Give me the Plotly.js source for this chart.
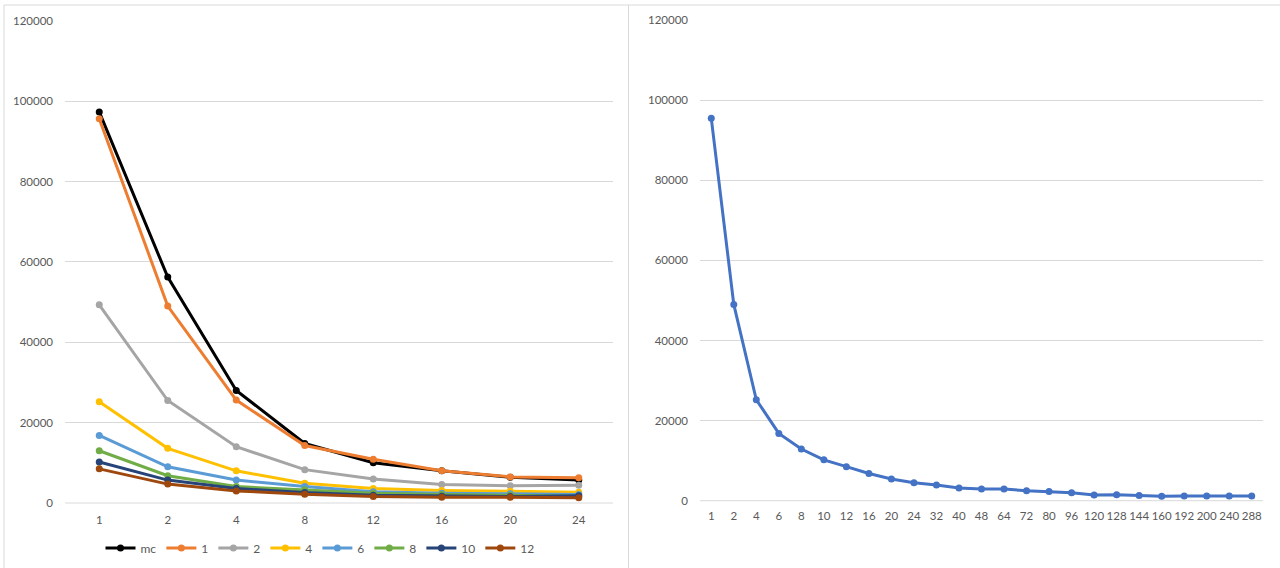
<!DOCTYPE html>
<html>
<head>
<meta charset="utf-8">
<script src="https://cdn.plot.ly/plotly-3.0.1.min.js"></script>
<style>
html,body{margin:0;padding:0;background:#fff;}
#chart{width:1280px;height:568px;}
</style>
</head>
<body>
<div id="chart"></div>
<script>
// Left chart categories and series
const leftCategories = ["1","2","4","8","12","16","20","24"];
const seriesNames = ["mc","1","2","4","6","8","10","12"];
const mcValues   = [97300, 56200, 28000, 14800, 10000, 8000, 6400, 5700];
const s1Values   = [95600, 49000, 25600, 14300, 10900, 8000, 6500, 6300];
const s2Values   = [49300, 25500, 14000, 8300, 6000, 4600, 4300, 4400];
const s4Values   = [25200, 13600, 8000, 4900, 3600, 3100, 2900, 2700];
const s6Values   = [16800, 9000, 5700, 4100, 2800, 2400, 2300, 2100];
const s8Values   = [13000, 6800, 4100, 3300, 2400, 2100, 1900, 1700];
const s10Values  = [10200, 5700, 3600, 2600, 1900, 1700, 1600, 1800];
const s12Values  = [8500, 4700, 3000, 2200, 1600, 1400, 1400, 1300];

// Right chart categories and series
const rightCategories = ["1","2","4","6","8","10","12","16","20","24","32","40","48","64","72","80","96","120","128","144","160","192","200","240","288"];
const rightValues = [95500, 49000, 25200, 16800, 12900, 10200, 8500, 6800, 5400, 4500, 3900, 3200, 2900, 2900, 2500, 2300, 2000, 1400, 1500, 1300, 1100, 1200, 1200, 1200, 1200];

const yTickVals = [0, 20000, 40000, 60000, 80000, 100000, 120000];

const leftSeries = [mcValues, s1Values, s2Values, s4Values, s6Values, s8Values, s10Values, s12Values];
const colors = ["#000000","#ED7D31","#A5A5A5","#FFC000","#5B9BD5","#70AD47","#264478","#9E480E"];

const W = 1280, H = 568;
const px = x => x / W;
const py = y => 1 - y / H;

const traces = leftSeries.map((vals, i) => ({
  type: "scatter", mode: "lines+markers",
  x: leftCategories, y: vals, name: seriesNames[i],
  xaxis: "x", yaxis: "y",
  line: {color: colors[i], width: 3},
  marker: {color: colors[i], size: 7},
  showlegend: true
}));
traces.push({
  type: "scatter", mode: "lines+markers",
  x: rightCategories, y: rightValues, name: "right",
  xaxis: "x2", yaxis: "y2",
  line: {color: "#4472C4", width: 3},
  marker: {color: "#4472C4", size: 7},
  showlegend: false
});

const FONT = "Lato, 'Liberation Sans', sans-serif";
const tickFont = {family: FONT, size: 11.5, color: "#595959"};

const axisCommon = {
  showline: false, zeroline: false, ticks: "", fixedrange: true
};

const layout = {
  width: W, height: H,
  margin: {l: 0, r: 0, t: 0, b: 0},
  paper_bgcolor: "#ffffff", plot_bgcolor: "rgba(0,0,0,0)",
  font: {family: FONT, color: "#595959"},
  showlegend: true,
  legend: {
    orientation: "h", x: px(320), xanchor: "center", y: py(548), yanchor: "middle",
    font: {family: FONT, size: 12, color: "#595959"},
    itemwidth: 30, tracegroupgap: 0, bgcolor: "rgba(0,0,0,0)"
  },
  xaxis: Object.assign({}, axisCommon, {
    type: "category", domain: [px(65), px(613)], anchor: "y",
    range: [-0.5, leftCategories.length - 0.5], autorange: false,
    showgrid: false, tickfont: tickFont, tickangle: 0, ticklabelstandoff: 8
  }),
  yaxis: Object.assign({}, axisCommon, {
    domain: [py(503), py(20.7)], range: [0, 120000], anchor: "x",
    tickvals: yTickVals, ticktext: yTickVals.map(String),
    showgrid: true, gridcolor: "#D9D9D9", gridwidth: 1,
    tickfont: tickFont, ticklabelstandoff: 11
  }),
  xaxis2: Object.assign({}, axisCommon, {
    type: "category", domain: [px(700), px(1263)], anchor: "y2",
    range: [-0.5, rightCategories.length - 0.5], autorange: false,
    showgrid: false, tickfont: tickFont, tickangle: 0, ticklabelstandoff: 7
  }),
  yaxis2: Object.assign({}, axisCommon, {
    domain: [py(500.7), py(20)], range: [0, 120000], anchor: "x2",
    tickvals: yTickVals, ticktext: yTickVals.map(String),
    showgrid: true, gridcolor: "#D9D9D9", gridwidth: 1,
    tickfont: tickFont, ticklabelstandoff: 11
  }),
  shapes: [
    {type: "line", xref: "paper", yref: "paper", x0: px(4), x1: px(4), y0: py(5), y1: py(600), line: {color: "#D9D9D9", width: 1}},
    {type: "line", xref: "paper", yref: "paper", x0: px(4), x1: px(1280), y0: py(5), y1: py(5), line: {color: "#D9D9D9", width: 1}},
    {type: "line", xref: "paper", yref: "paper", x0: px(628.5), x1: px(628.5), y0: py(5), y1: py(600), line: {color: "#D9D9D9", width: 1}},
    {type: "line", xref: "paper", yref: "paper", x0: px(65), x1: px(613), y0: py(503), y1: py(503), line: {color: "#D9D9D9", width: 1}},
    {type: "line", xref: "paper", yref: "paper", x0: px(700), x1: px(1263), y0: py(500.7), y1: py(500.7), line: {color: "#D9D9D9", width: 1}}
  ]
};

Plotly.newPlot("chart", traces, layout, {staticPlot: true, displayModeBar: false});
</script>
</body>
</html>
